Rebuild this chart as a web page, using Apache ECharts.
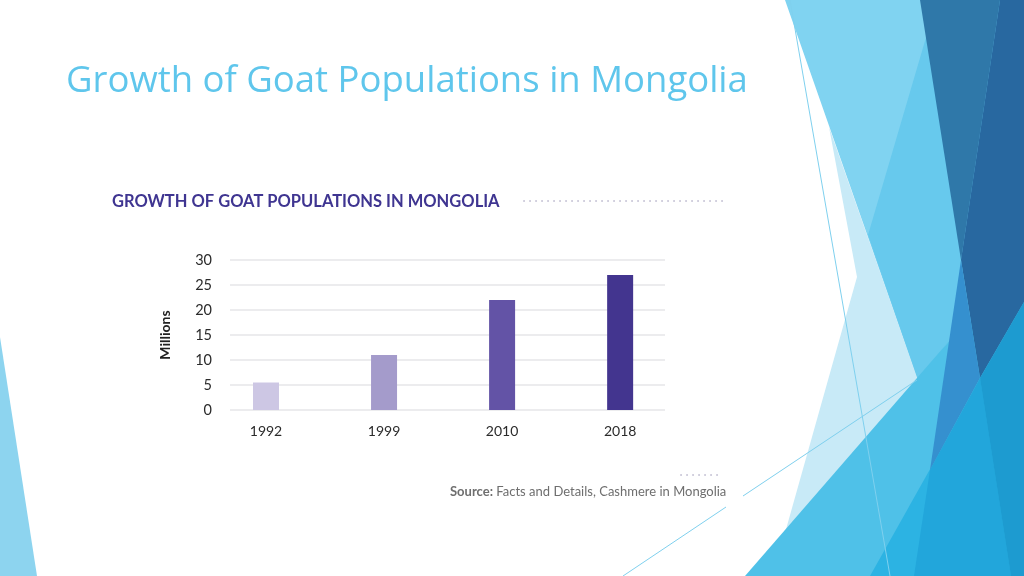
<!DOCTYPE html>
<html>
<head>
<meta charset="utf-8">
<script src="https://cdn.jsdelivr.net/npm/echarts@6.0.0/dist/echarts.min.js"></script>
<style>
  html, body { margin: 0; padding: 0; background: #fff; }
  #main { width: 1024px; height: 576px; }
</style>
</head>
<body>
<div id="main"></div>
<script>
const years = ['1992', '1999', '2010', '2018'];
const goats = [5.5, 11, 22, 27];
const yTicks = [0, 5, 10, 15, 20, 25, 30];
const barColors = ['#cdc7e4', '#a49bcb', '#6353a6', '#43358f'];

const chart = echarts.init(document.getElementById('main'));

// slide decoration (theme shapes), drawn back to front
const shapes = [
  { pts: [[0, 337], [0, 576], [37, 576]], fill: '#8dd4ef' },
  { pts: [[829, 127], [857, 277], [783, 540], [918, 380]], fill: '#c8eaf7' },
  { pts: [[785, 0], [1024, 0], [1024, 300], [950, 340], [918, 380]], fill: '#80d3f1' },
  { pts: [[937, 0], [1024, 0], [1024, 300], [950, 340], [918, 380], [868, 235]], fill: '#67c9ed' },
  { pts: [[745, 576], [950, 340], [1024, 280], [1024, 576]], fill: '#4fc1e8' },
  { pts: [[870, 576], [1024, 302], [1024, 576]], fill: '#2cb3e3' },
  { pts: [[920, 0], [1000, 0], [961, 260]], fill: '#2f78a9' },
  { pts: [[1000, 0], [1024, 0], [1024, 302], [980, 378], [961, 260]], fill: '#2868a0' },
  { pts: [[961, 260], [980, 378], [930, 470]], fill: '#3590cf' },
  { pts: [[930, 470], [980, 378], [1011, 576], [914, 576]], fill: '#22a6db' },
  { pts: [[980, 378], [1024, 302], [1024, 576], [1011, 576]], fill: '#1d9bd0' }
];
const deco = shapes.map(s => ({
  type: 'polygon', silent: true, z: 0,
  shape: { points: s.pts },
  style: { fill: s.fill }
}));
const thinLines = [
  [790, 0, 890, 576],
  [623, 576, 726, 507],
  [743, 496, 917, 380]
];
thinLines.forEach(l => deco.push({
  type: 'line', silent: true, z: 1,
  shape: { x1: l[0], y1: l[1], x2: l[2], y2: l[3] },
  style: { stroke: '#7fd0ee', lineWidth: 1 }
}));

const option = {
  backgroundColor: '#ffffff',
  animation: false,
  grid: { left: 230, right: 359, top: 260, bottom: 166 },
  xAxis: {
    type: 'value',
    min: -0.305,
    max: 3.38,
    splitLine: { show: false },
    axisLine: { show: false },
    axisTick: { show: false },
    axisLabel: {
      customValues: [0, 1, 2, 3],
      formatter: v => years[v],
      margin: 14,
      color: '#2b2b2b',
      fontFamily: 'Lato',
      fontSize: 14
    }
  },
  yAxis: {
    type: 'value',
    min: yTicks[0],
    max: yTicks[yTicks.length - 1],
    interval: 5,
    name: 'Millions',
    nameLocation: 'middle',
    nameRotate: 90,
    nameGap: 58,
    nameTextStyle: { color: '#222', fontFamily: 'Lato', fontWeight: 'bold', fontSize: 14 },
    axisLine: { show: false },
    axisTick: { show: false },
    splitLine: { lineStyle: { color: '#e6e6e9', width: 1.5 } },
    axisLabel: { margin: 18, color: '#2b2b2b', fontFamily: 'Lato', fontSize: 14.5 }
  },
  series: [{
    type: 'bar',
    barWidth: 26,
    data: goats.map((v, i) => ({ value: [i, v], itemStyle: { color: barColors[i] } }))
  }],
  graphic: deco.concat([
    {
      type: 'text', left: 66, top: 63, z: 5,
      style: {
        text: 'Growth of Goat Populations in Mongolia',
        fill: '#5fc6ec',
        font: '36.5px "Open Sans"'
      }
    },
    {
      type: 'text', left: 112, top: 193, z: 5,
      style: {
        text: 'GROWTH OF GOAT POPULATIONS IN MONGOLIA',
        fill: '#3f3591',
        font: 'bold 16.5px Lato'
      }
    },
    {
      type: 'line', z: 5, silent: true,
      shape: { x1: 524, y1: 201, x2: 723, y2: 201 },
      style: { stroke: '#a4a0bd', lineWidth: 1.6, lineDash: [0.1, 5.9], lineCap: 'round' }
    },
    {
      type: 'line', z: 5, silent: true,
      shape: { x1: 681, y1: 475, x2: 720, y2: 475 },
      style: { stroke: '#a4a0bd', lineWidth: 1.6, lineDash: [0.1, 5.9], lineCap: 'round' }
    },
    {
      type: 'text', left: 450, top: 485, z: 5,
      style: {
        text: '{b|Source:} Facts and Details, Cashmere in Mongolia',
        fill: '#6e6e6e',
        font: '13px Lato',
        rich: {
          b: { fontWeight: 'bold', fill: '#6e6e6e', fontFamily: 'Lato', fontSize: 13 }
        }
      }
    }
  ])
};

chart.setOption(option);
</script>
</body>
</html>
